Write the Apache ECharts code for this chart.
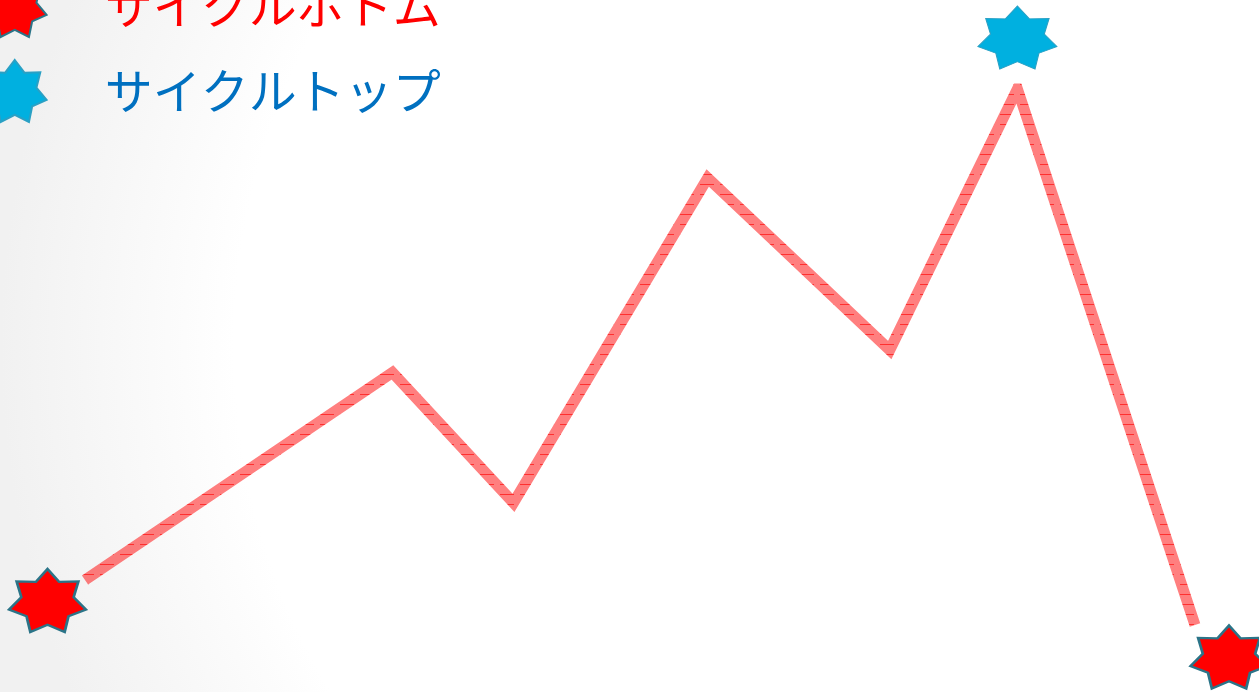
<!DOCTYPE html>
<html>
<head>
<meta charset="utf-8">
<script src="https://cdn.jsdelivr.net/npm/echarts@6/dist/echarts.min.js"></script>
<style>
  html, body { margin: 0; padding: 0; }
  #chart { width: 1259px; height: 692px; }
</style>
</head>
<body>
<div id="chart"></div>
<script>
// ---- data ----
const xValues = [0, 27.7, 38.6, 56.1, 72.5, 84.0, 100];
const yValues = [8.4, 47.1, 22.8, 83.4, 51.3, 100, 0];
const bottomIdx = [0, 6];   // cycle bottoms
const topIdx = [5];         // cycle top
const legendNames = ['サイクルボトム', 'サイクルトップ'];

// ---- styling helpers ----
function starPath(points, inner) {
  const pts = [];
  for (let i = 0; i < points * 2; i++) {
    const a = i * Math.PI / points;
    const r = i % 2 === 0 ? 1 : inner;
    pts.push((Math.sin(a) * r * 100).toFixed(2) + ' ' + (-Math.cos(a) * r * 100).toFixed(2));
  }
  return 'path://M' + pts.join(' L') + ' Z';
}
const STAR = starPath(7, 0.68);

const pc = document.createElement('canvas');
pc.width = 20; pc.height = 10;
const pctx = pc.getContext('2d');
pctx.fillStyle = 'rgba(255,0,0,0.5)';
pctx.fillRect(0, 0, 20, 10);
pctx.fillStyle = 'rgba(255,0,0,0.62)';
pctx.fillRect(0, 4, 14, 1);

const lineData = xValues.map((x, i) => [x, yValues[i]]);
const bottomOffsets = [[-37.5, 20.5], [34, 32]];
const topOffsets = [[0, -51.5]];

const chart = echarts.init(document.getElementById('chart'));
chart.setOption({
  animation: false,
  backgroundColor: {
    type: 'radial', x: 0.715, y: 0.5, r: 1.3,
    colorStops: [
      { offset: 0, color: '#ffffff' },
      { offset: 0.74, color: '#ffffff' },
      { offset: 1, color: '#f1f1f1' }
    ]
  },
  grid: { left: 85, right: 64, top: 89, bottom: 67 },
  xAxis: { type: 'value', min: 0, max: 100, show: false },
  yAxis: { type: 'value', min: 0, max: 100, show: false },
  legend: {
    orient: 'vertical', left: -18, top: -26, padding: 0,
    itemWidth: 78, itemHeight: 62, itemGap: 21,
    textStyle: { fontSize: 48, fontFamily: 'Noto Sans CJK JP', padding: [0, 0, 0, 46] },
    data: [
      { name: legendNames[0], icon: STAR, textStyle: { color: '#ff0000' } },
      { name: legendNames[1], icon: STAR, textStyle: { color: '#0070c0' } }
    ]
  },
  series: [
    {
      type: 'line',
      name: 'line',
      data: lineData,
      showSymbol: false,
      symbol: 'none',
      itemStyle: { color: '#ff0000' },
      lineStyle: { width: 11, color: { image: pc, repeat: 'repeat' }, cap: 'butt', join: 'miter' },
      z: 1
    },
    {
      type: 'scatter',
      name: legendNames[0],
      symbol: STAR,
      symbolSize: [77, 63],
      clip: false,
      itemStyle: { color: '#ff0000', borderColor: '#2b7488', borderWidth: 2.5, opacity: 1 },
      data: bottomIdx.map((i, k) => ({ value: [xValues[i], yValues[i]], symbolOffset: bottomOffsets[k] })),
      z: 3
    },
    {
      type: 'scatter',
      name: legendNames[1],
      symbol: STAR,
      symbolSize: [79, 63],
      clip: false,
      itemStyle: { color: '#00b0e0', borderColor: '#2aa0c4', borderWidth: 1, opacity: 1 },
      data: topIdx.map((i, k) => ({ value: [xValues[i], yValues[i]], symbolOffset: topOffsets[k] })),
      z: 3
    }
  ]
});
</script>
</body>
</html>
